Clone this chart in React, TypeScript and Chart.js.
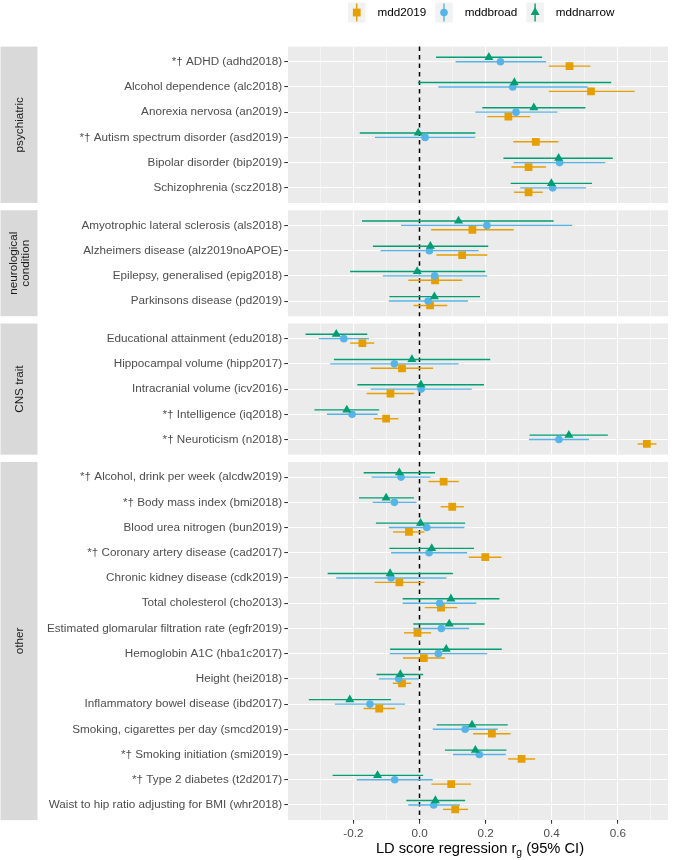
import React, { useEffect, useRef } from 'react';
import { Chart, registerables } from 'chart.js';

Chart.register(...registerables);

const FONT = "'Liberation Sans', Arial, Helvetica, sans-serif";

// ---- categories ----
const panelNames = ['psychiatric', 'neurological\ncondition', 'CNS trait', 'other'];

const psychiatricTraits = [
  '*† ADHD (adhd2018)',
  'Alcohol dependence (alc2018)',
  'Anorexia nervosa (an2019)',
  '*† Autism spectrum disorder (asd2019)',
  'Bipolar disorder (bip2019)',
  'Schizophrenia (scz2018)',
];
const neurologicalTraits = [
  'Amyotrophic lateral sclerosis (als2018)',
  'Alzheimers disease (alz2019noAPOE)',
  'Epilepsy, generalised (epig2018)',
  'Parkinsons disease (pd2019)',
];
const cnsTraits = [
  'Educational attainment (edu2018)',
  'Hippocampal volume (hipp2017)',
  'Intracranial volume (icv2016)',
  '*† Intelligence (iq2018)',
  '*† Neuroticism (n2018)',
];
const otherTraits = [
  '*† Alcohol, drink per week (alcdw2019)',
  '*† Body mass index (bmi2018)',
  'Blood urea nitrogen (bun2019)',
  '*† Coronary artery disease (cad2017)',
  'Chronic kidney disease (cdk2019)',
  'Total cholesterol (cho2013)',
  'Estimated glomarular filtration rate (egfr2019)',
  'Hemoglobin A1C (hba1c2017)',
  'Height (hei2018)',
  'Inflammatory bowel disease (ibd2017)',
  'Smoking, cigarettes per day (smcd2019)',
  '*† Smoking initiation (smi2019)',
  '*† Type 2 diabetes (t2d2017)',
  'Waist to hip ratio adjusting for BMI (whr2018)',
];
const panelTraits = [psychiatricTraits, neurologicalTraits, cnsTraits, otherTraits];

// ---- series ----
const seriesNames = ['mdd2019', 'mddbroad', 'mddnarrow'];
const seriesColors = ['#E69F00', '#56B4E9', '#009E73'];

// values in trait order (psychiatric, neurological, CNS, other)
const mdd2019Est = [0.454, 0.519, 0.269, 0.352, 0.330, 0.330, 0.160, 0.129, 0.047, 0.032, -0.173, -0.053, -0.088, -0.101, 0.688, 0.073, 0.099, -0.032, 0.199, -0.061, 0.065, -0.006, 0.013, -0.053, -0.122, 0.219, 0.309, 0.096, 0.108];
const mdd2019Lo = [0.391, 0.391, 0.205, 0.284, 0.278, 0.286, 0.035, 0.051, -0.034, -0.018, -0.210, -0.148, -0.160, -0.138, 0.660, 0.027, 0.064, -0.080, 0.149, -0.136, 0.016, -0.047, -0.050, -0.081, -0.169, 0.162, 0.268, 0.036, 0.071];
const mdd2019Hi = [0.517, 0.651, 0.335, 0.420, 0.383, 0.373, 0.285, 0.205, 0.129, 0.084, -0.137, 0.041, -0.016, -0.064, 0.717, 0.119, 0.134, 0.015, 0.248, 0.015, 0.114, 0.035, 0.077, -0.025, -0.074, 0.275, 0.350, 0.156, 0.147];

const mddbroadEst = [0.245, 0.282, 0.292, 0.017, 0.424, 0.403, 0.204, 0.030, 0.046, 0.026, -0.229, -0.076, 0.005, -0.204, 0.422, -0.056, -0.076, 0.022, 0.029, -0.086, 0.061, 0.066, 0.057, -0.063, -0.150, 0.138, 0.181, -0.075, 0.043];
const mddbroadLo = [0.109, 0.057, 0.169, -0.135, 0.285, 0.305, -0.056, -0.118, -0.111, -0.093, -0.305, -0.270, -0.148, -0.280, 0.331, -0.145, -0.142, -0.093, -0.086, -0.252, -0.051, -0.019, -0.090, -0.123, -0.256, 0.040, 0.101, -0.190, -0.034];
const mddbroadHi = [0.383, 0.509, 0.417, 0.169, 0.562, 0.504, 0.462, 0.179, 0.205, 0.147, -0.153, 0.118, 0.158, -0.127, 0.513, 0.033, -0.009, 0.136, 0.144, 0.081, 0.172, 0.150, 0.205, -0.002, -0.044, 0.237, 0.261, 0.040, 0.122];

const mddnarrowEst = [0.210, 0.287, 0.346, -0.004, 0.421, 0.399, 0.118, 0.033, -0.007, 0.045, -0.252, -0.023, 0.004, -0.220, 0.452, -0.061, -0.101, 0.003, 0.037, -0.089, 0.095, 0.090, 0.081, -0.058, -0.211, 0.159, 0.169, -0.127, 0.048];
const mddnarrowLo = [0.050, -0.005, 0.190, -0.181, 0.254, 0.276, -0.174, -0.141, -0.210, -0.091, -0.345, -0.259, -0.188, -0.318, 0.333, -0.169, -0.183, -0.132, -0.091, -0.278, -0.051, -0.019, -0.089, -0.130, -0.335, 0.052, 0.077, -0.263, -0.040];
const mddnarrowHi = [0.371, 0.580, 0.502, 0.169, 0.585, 0.522, 0.406, 0.208, 0.199, 0.183, -0.158, 0.214, 0.195, -0.122, 0.570, 0.047, -0.017, 0.138, 0.165, 0.101, 0.242, 0.197, 0.249, 0.011, -0.086, 0.267, 0.263, 0.011, 0.138];

// ---- x axis ticks ----
const xTickValues = [-0.3, -0.2, -0.1, 0.0, 0.1, 0.2, 0.3, 0.4, 0.5, 0.6, 0.7];
const xTickLabels = ['', '-0.2', '', '0.0', '', '0.2', '', '0.4', '', '0.6', ''];
const xMin = -0.398;
const xMax = 0.752;

const PANEL_EXPAND = 0.6;
const PANEL_GAP = 0.29;
const DODGE = 0.175;

function buildLayout() {
  const rows: number[] = [];
  const labels: string[] = [];
  const panels: { start: number; end: number; name: string }[] = [];
  let s = 0;
  panelTraits.forEach((traits, p) => {
    traits.forEach((t, i) => {
      rows.push(s + PANEL_EXPAND + i);
      labels.push(t);
    });
    const e = s + traits.length - 1 + 2 * PANEL_EXPAND;
    panels.push({ start: s, end: e, name: panelNames[p] });
    s = e + PANEL_GAP;
  });
  return { rows, labels, panels, total: s - PANEL_GAP };
}

export default function App() {
  const ref = useRef<HTMLCanvasElement | null>(null);

  useEffect(() => {
    if (!ref.current) return;
    const { rows, labels, panels, total } = buildLayout();
    const est = [mdd2019Est, mddbroadEst, mddnarrowEst];
    const lo = [mdd2019Lo, mddbroadLo, mddnarrowLo];
    const hi = [mdd2019Hi, mddbroadHi, mddnarrowHi];
    const offsets = [DODGE, 0, -DODGE];
    const shapes = ['rect', 'circle', 'triangle'];
    const radii = [5.5, 3.8, 5.2];
    const orders = [3, 2, 1];

    const datasets = seriesNames.map((name, k) => ({
      label: name,
      data: rows.map((r, i) => ({ x: est[k][i], y: r + offsets[k], lo: lo[k][i], hi: hi[k][i] })),
      pointStyle: shapes[k],
      pointRadius: radii[k],
      pointHoverRadius: radii[k],
      pointBackgroundColor: seriesColors[k],
      pointBorderColor: seriesColors[k],
      pointBorderWidth: 0,
      borderWidth: 0,
      showLine: false,
      order: orders[k],
    }));

    const labelMap = new Map<string, string>();
    rows.forEach((r, i) => labelMap.set(r.toFixed(4), labels[i]));

    const isMajor = (v: number) => Math.round(Math.abs(v) * 10) % 2 === 0;

    const facetPlugin = {
      id: 'facets',
      beforeDraw(chart: any) {
        const { ctx, chartArea, scales } = chart;
        const ys = scales.y;
        ctx.save();
        panels.forEach((p) => {
          const y0 = ys.getPixelForValue(p.start);
          const y1 = ys.getPixelForValue(p.end);
          ctx.fillStyle = '#EBEBEB';
          ctx.fillRect(chartArea.left, y0, chartArea.right - chartArea.left, y1 - y0);
          ctx.fillStyle = '#D9D9D9';
          ctx.fillRect(0.5, y0, 37, y1 - y0);
          ctx.save();
          ctx.translate(19.5, (y0 + y1) / 2);
          ctx.rotate(-Math.PI / 2);
          ctx.fillStyle = '#1A1A1A';
          ctx.font = `11.7px ${FONT}`;
          ctx.textAlign = 'center';
          ctx.textBaseline = 'middle';
          const lines = p.name.split('\n');
          const lh = 12;
          lines.forEach((ln, li) => {
            ctx.fillText(ln, 0, (li - (lines.length - 1) / 2) * lh);
          });
          ctx.restore();
        });
        ctx.restore();
      },
      beforeDatasetsDraw(chart: any) {
        const { ctx, scales } = chart;
        const xs = scales.x;
        const ys = scales.y;
        ctx.save();
        const x0 = xs.getPixelForValue(0);
        ctx.strokeStyle = '#000000';
        ctx.lineWidth = 1.5;
        ctx.setLineDash([4.5, 4]);
        panels.forEach((p) => {
          ctx.beginPath();
          ctx.moveTo(x0, ys.getPixelForValue(p.start));
          ctx.lineTo(x0, ys.getPixelForValue(p.end));
          ctx.stroke();
        });
        ctx.setLineDash([]);
        ctx.lineWidth = 1.4;
        ctx.lineCap = 'butt';
        chart.data.datasets.forEach((ds: any, k: number) => {
          ctx.strokeStyle = seriesColors[k];
          ds.data.forEach((d: any) => {
            const y = ys.getPixelForValue(d.y);
            ctx.beginPath();
            ctx.moveTo(xs.getPixelForValue(d.lo), y);
            ctx.lineTo(xs.getPixelForValue(d.hi), y);
            ctx.stroke();
          });
        });
        ctx.restore();
      },
      afterDraw(chart: any) {
        const { ctx, chartArea } = chart;
        ctx.save();
        ctx.font = `11.7px ${FONT}`;
        let x = 348;
        const keyW = 17.5;
        const keyTop = 2.5;
        const keyH = 20;
        const cy = keyTop + keyH / 2;
        seriesNames.forEach((name, k) => {
          ctx.fillStyle = '#F2F2F2';
          ctx.fillRect(x, keyTop, keyW, keyH);
          const cx = x + keyW / 2;
          ctx.strokeStyle = seriesColors[k];
          ctx.lineWidth = 1.4;
          ctx.beginPath();
          ctx.moveTo(cx, keyTop + 1);
          ctx.lineTo(cx, keyTop + keyH - 1);
          ctx.stroke();
          ctx.fillStyle = seriesColors[k];
          ctx.beginPath();
          if (k === 0) {
            const h = 3.9;
            ctx.rect(cx - h, cy - h, 2 * h, 2 * h);
          } else if (k === 1) {
            ctx.arc(cx, cy, 3.8, 0, Math.PI * 2);
          } else {
            const r = 5.2;
            ctx.moveTo(cx, cy - r);
            ctx.lineTo(cx + 0.866 * r, cy + 0.5 * r);
            ctx.lineTo(cx - 0.866 * r, cy + 0.5 * r);
            ctx.closePath();
          }
          ctx.fill();
          ctx.fillStyle = '#000000';
          ctx.textAlign = 'left';
          ctx.textBaseline = 'middle';
          const tx = x + keyW + 12;
          ctx.fillText(name, tx, cy + 0.5);
          x = tx + ctx.measureText(name).width + 9;
        });

        const a = 'LD score regression r';
        const sub = 'g';
        const b = ' (95% CI)';
        ctx.fillStyle = '#000000';
        ctx.textAlign = 'left';
        ctx.textBaseline = 'alphabetic';
        ctx.font = `14.7px ${FONT}`;
        const wa = ctx.measureText(a).width;
        const wb = ctx.measureText(b).width;
        ctx.font = `10.3px ${FONT}`;
        const ws = ctx.measureText(sub).width;
        const center = (chartArea.left + chartArea.right) / 2 + 2;
        let tx = center - (wa + ws + wb) / 2;
        const base = 852.5;
        ctx.font = `14.7px ${FONT}`;
        ctx.fillText(a, tx, base);
        tx += wa;
        ctx.font = `10.3px ${FONT}`;
        ctx.fillText(sub, tx, base + 3.5);
        tx += ws;
        ctx.font = `14.7px ${FONT}`;
        ctx.fillText(b, tx, base);
        ctx.restore();
      },
    };

    const chart = new Chart(ref.current, {
      type: 'scatter',
      data: { datasets: datasets as any },
      options: {
        animation: false,
        responsive: false,
        maintainAspectRatio: false,
        events: [],
        layout: { padding: { top: 46.6, right: 7, bottom: 0, left: 0 } },
        plugins: {
          legend: { display: false },
          tooltip: { enabled: false },
          title: { display: false },
        },
        scales: {
          x: {
            type: 'linear',
            position: 'bottom',
            min: xMin,
            max: xMax,
            afterBuildTicks: (s: any) => {
              s.ticks = xTickValues.map((v) => ({ value: v }));
            },
            afterFit: (s: any) => {
              s.height = 39.9;
            },
            grid: {
              color: '#FFFFFF',
              lineWidth: (c: any) => (c.tick && isMajor(c.tick.value) ? 1.07 : 0.53),
              drawTicks: true,
              tickLength: 3.7,
              tickWidth: 1.07,
              tickColor: (c: any) => (c.tick && isMajor(c.tick.value) ? '#333333' : 'rgba(0,0,0,0)'),
            },
            border: { display: false },
            ticks: {
              autoSkip: false,
              maxRotation: 0,
              minRotation: 0,
              padding: 2.6,
              color: '#4D4D4D',
              font: { family: FONT, size: 11.7 },
              callback: (v: any) => {
                const idx = xTickValues.findIndex((t) => Math.abs(t - Number(v)) < 1e-6);
                return idx >= 0 ? xTickLabels[idx] : '';
              },
            },
          },
          y: {
            type: 'linear',
            position: 'left',
            min: 0,
            max: total,
            reverse: true,
            afterBuildTicks: (s: any) => {
              s.ticks = rows.map((v) => ({ value: v }));
            },
            afterFit: (s: any) => {
              s.width = 288;
            },
            grid: {
              color: '#FFFFFF',
              lineWidth: 1.07,
              drawTicks: true,
              tickLength: 3.7,
              tickWidth: 1.07,
              tickColor: '#333333',
            },
            border: { display: false },
            ticks: {
              autoSkip: false,
              padding: 2.2,
              color: '#4D4D4D',
              font: { family: FONT, size: 11.7 },
              callback: (v: any) => labelMap.get(Number(v).toFixed(4)) || '',
            },
          },
        },
      },
      plugins: [facetPlugin],
    } as any);

    return () => chart.destroy();
  }, []);

  return (
    <div style={{ position: 'absolute', left: 0, top: 0, width: 675, height: 860, background: '#FFFFFF' }}>
      <canvas ref={ref} width={675} height={860} style={{ display: 'block', width: 675, height: 860 }} />
    </div>
  );
}
